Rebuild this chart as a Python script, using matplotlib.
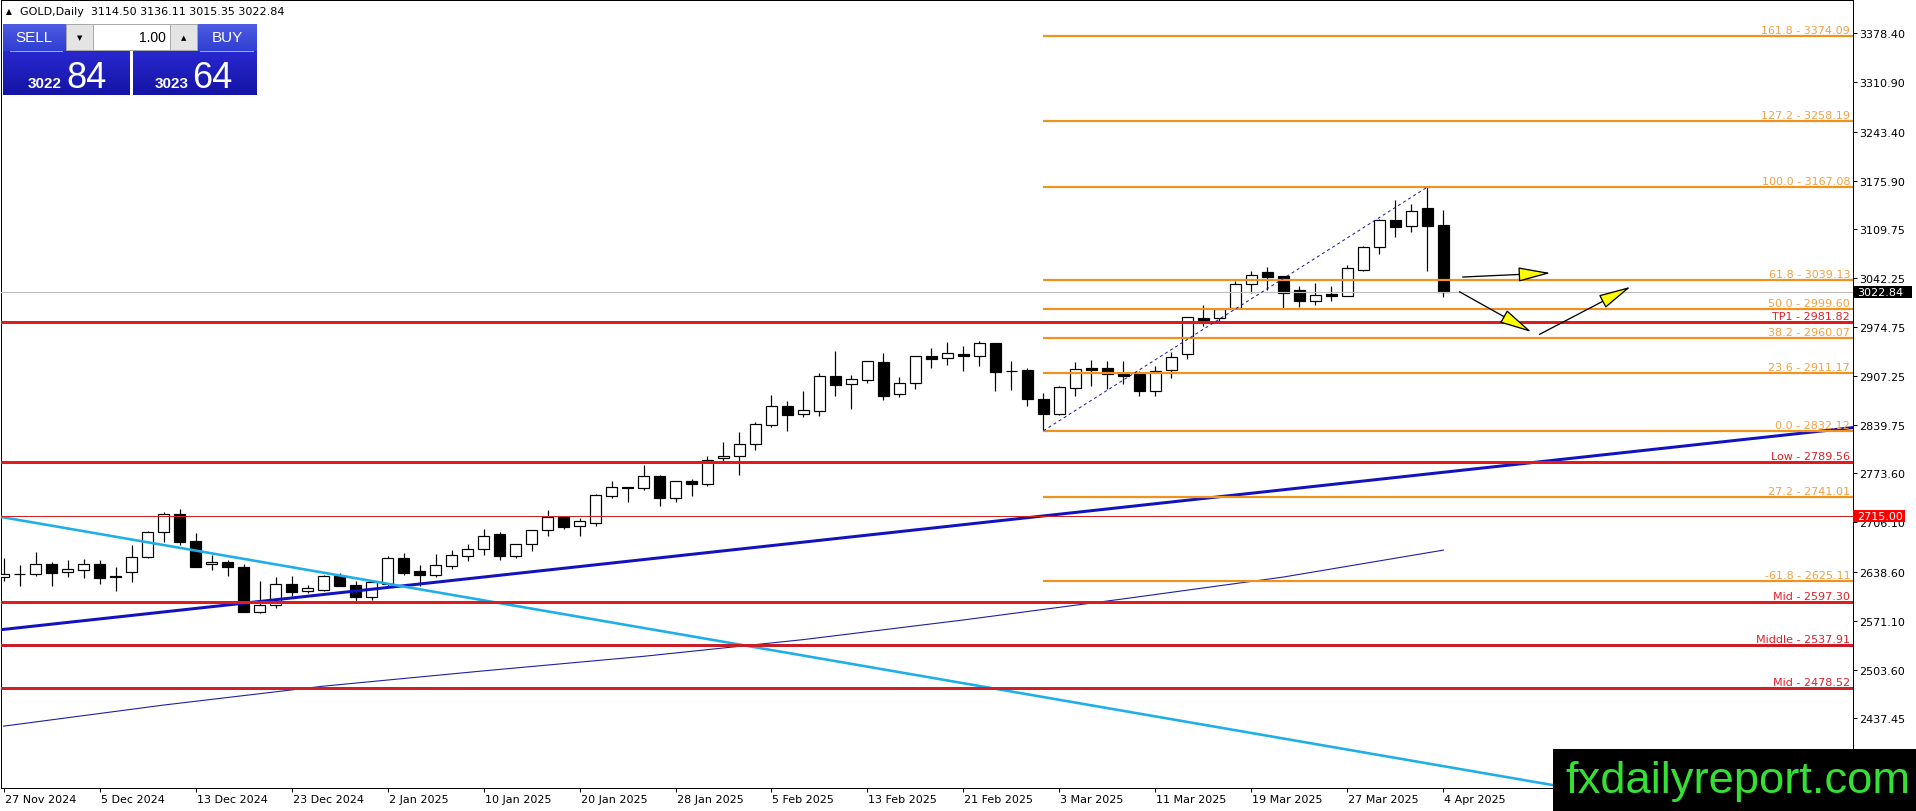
import numpy as np
import matplotlib
matplotlib.use('Agg')
import matplotlib.pyplot as plt
import matplotlib.transforms as mtransforms
from matplotlib.patches import Rectangle, FancyArrowPatch
from matplotlib.colors import to_rgb
from matplotlib import font_manager as fm

# ---------------- data ----------------
header_symbol = "GOLD,Daily"
header_ohlc = "3114.50 3136.11 3015.35 3022.84"
sell_big, sell_small = "84", "3022"
buy_big, buy_small = "64", "3023"
lot_text = "1.00"

date_bars = [0, 6, 12, 18, 24, 30, 36, 42, 48, 54, 60, 66, 72, 78, 84, 90]
date_labels = ['27 Nov 2024', '5 Dec 2024', '13 Dec 2024', '23 Dec 2024', '2 Jan 2025',
               '10 Jan 2025', '20 Jan 2025', '28 Jan 2025', '5 Feb 2025', '13 Feb 2025',
               '21 Feb 2025', '3 Mar 2025', '11 Mar 2025', '19 Mar 2025', '27 Mar 2025',
               '4 Apr 2025']

opens = [2631, 2635, 2635.7, 2649, 2637.5, 2641, 2649, 2632, 2637.5, 2659,
         2692.5, 2717.7, 2680, 2648.5, 2651.7, 2644.4, 2583.4, 2592.6, 2621, 2611.8,
         2613.7, 2632, 2620, 2604, 2621.4, 2657.1, 2638.8, 2634.2, 2646.6, 2659.4,
         2669.5, 2689.7, 2660.3, 2675.9, 2695.2, 2714, 2700.7, 2704.8, 2742.8, 2754.3,
         2752.9, 2769.4, 2739.1, 2763, 2758.4, 2794.1, 2797.8, 2813.4, 2840.4, 2865.6,
         2854.6, 2858.7, 2906.8, 2895.8, 2902.3, 2926.1, 2882.1, 2897.2, 2934.3, 2931.6,
         2937.1, 2934.3, 2952.7, 2914.6, 2915.5, 2875.7, 2855.5, 2891.3, 2917.8, 2917.8,
         2911, 2910, 2886.2, 2916, 2937.1, 2986.6, 2987.5, 3000.3, 3033.3, 3049.8,
         3044.3, 3025.1, 3010, 3020, 3017.7, 3053.5, 3085.1, 3122.2, 3113, 3137.8,
         3114.5]
highs = [2657, 2647, 2665.9, 2652, 2654.4, 2655.8, 2654.4, 2644.4, 2675, 2694,
         2720, 2724.6, 2691.1, 2661.3, 2654.4, 2649, 2626, 2630.6, 2632, 2620,
         2633.8, 2636.6, 2626, 2626, 2660.3, 2664, 2647.5, 2662.6, 2668.1, 2675.9,
         2697, 2692.4, 2676, 2695.5, 2723.1, 2715.3, 2711.7, 2745.1, 2763, 2755.2,
         2785, 2771.2, 2763.4, 2765.7, 2796.9, 2816.1, 2830, 2843.6, 2881.2, 2873.4,
         2886.2, 2911, 2941.7, 2908.7, 2928.4, 2938.9, 2905.5, 2935.2, 2945.3, 2953.6,
         2948.1, 2954.9, 2952.9, 2928.4, 2918.3, 2883.9, 2894, 2927, 2929.3, 2928.4,
         2928.4, 2914.6, 2920.6, 2940.8, 2988.9, 3004.9, 3000, 3037.9, 3051.6, 3057.1,
         3045, 3031.5, 3035.1, 3031.5, 3059.9, 3085.5, 3123.1, 3149.7, 3143.7, 3167.08,
         3136.11]
lows = [2626, 2619, 2632, 2619, 2631.5, 2629.7, 2621.5, 2611.4, 2624.7, 2656.7,
        2678.7, 2675, 2644.4, 2641.2, 2632, 2582.5, 2581.1, 2588, 2605.4, 2608.6,
        2612.3, 2618.3, 2595, 2599.5, 2619.1, 2634.2, 2619.1, 2630.6, 2642, 2653.5,
        2661.7, 2654.8, 2657.6, 2667.2, 2687.8, 2697, 2687.8, 2700.7, 2739.6, 2733.7,
        2751, 2729.1, 2733.6, 2742.8, 2756.6, 2790.9, 2771.2, 2806, 2837.6, 2832.2,
        2850.5, 2852.8, 2880.3, 2861.9, 2897.7, 2874.8, 2878, 2889.4, 2917.8, 2922.9,
        2914.6, 2920.6, 2887.1, 2888.5, 2866.5, 2832.12, 2853.7, 2880.3, 2893.1, 2889.4,
        2896.3, 2879.4, 2879.4, 2904.6, 2930.7, 2976.5, 2982, 2999.4, 3021.4, 3026,
        3001.2, 3001.7, 3005.4, 3010.9, 3016.8, 3052.1, 3075, 3097.9, 3104.8, 3052.1,
        3015.35]
closes = [2635, 2635.5, 2648.5, 2637, 2641.6, 2648.5, 2629.7, 2631, 2658.1, 2692.5,
          2717.7, 2678.7, 2645.3, 2651.7, 2644.4, 2583.4, 2592.6, 2621, 2610.9, 2615.5,
          2632, 2619.2, 2604, 2623.8, 2657.1, 2636.5, 2634.2, 2647.5, 2660.8, 2669.5,
          2687.8, 2660.3, 2675.9, 2695.2, 2713, 2700.2, 2707.5, 2743.7, 2754.3, 2753.5,
          2769.4, 2739.1, 2762.5, 2758.4, 2792.3, 2796.9, 2813.6, 2840.9, 2865.6, 2854.1,
          2860.1, 2906.8, 2895.4, 2902.7, 2927.5, 2880.3, 2897.2, 2934.3, 2931.1, 2938.5,
          2934.3, 2952.2, 2913.3, 2914.2, 2876.1, 2855.5, 2891.7, 2916.5, 2915.5, 2909.6,
          2907.8, 2887.1, 2914.6, 2933, 2988, 2982, 2999.4, 3033.3, 3046.6, 3043.8,
          3021.4, 3010.9, 3019.1, 3017.7, 3055.3, 3084.2, 3122.2, 3112.6, 3134.6, 3114,
          3022.84]

price_ticks = [3378.40, 3310.90, 3243.40, 3175.90, 3109.75, 3042.25, 2974.75, 2907.25,
               2839.75, 2773.60, 2706.10, 2638.60, 2571.10, 2503.60, 2437.45]

fib_levels = [161.8, 127.2, 100.0, 61.8, 50.0, 38.2, 23.6, 0.0, 27.2, -61.8]
fib_prices = [3374.09, 3258.19, 3167.08, 3039.13, 2999.60, 2960.07, 2911.17, 2832.12, 2741.01, 2625.11]
fib_start_bar = 65
fib_anchor_bars = [65, 89]
fib_anchor_prices = [2832.12, 3167.08]

red_names = ['TP1', 'Low', '', 'Mid', 'Middle', 'Mid']
red_prices = [2981.82, 2789.56, 2715.00, 2597.30, 2537.91, 2478.52]

current_price = 3022.84
boxed_level = 2715.00

navy_bars = [0, 100]
navy_prices = [2559, 2799]
cyan_bars = [0, 100]
cyan_prices = [2713, 2333]

ma_bars = [0, 10, 20, 30, 40, 50, 60, 70, 80, 90]
ma_values = [2426, 2455, 2481, 2502, 2522, 2545, 2572, 2601, 2631, 2668]

arrow_starts = [(91.2, 3043.4), (91.0, 3023.2), (96.0, 2964.5)]
arrow_ends = [(96.7, 3048.9), (95.5, 2967.8), (101.7, 3030.0)]

watermark = "fxdailyreport.com"

# ---------------- styles ----------------
W, H, DPI = 1916, 812, 100
PX = 72.0 / DPI  # points per pixel
FIB_COL = '#F0921E'
FIB_TXT = '#F2A144'
RED_COL = '#E31A1C'
RED_TXT = '#E0202A'
red_widths = [3, 3, 1, 3, 3, 3]
red_colors = [RED_COL, RED_COL, '#D02020', RED_COL, '#C81E28', '#D61C24']

plt.rcParams['font.family'] = ['DejaVu Sans']

fig = plt.figure(figsize=(W / DPI, H / DPI), dpi=DPI)
fig.patch.set_facecolor('white')

ax_l, ax_r, ax_t, ax_b = 1, 1853, 1, 789
ax = fig.add_axes([ax_l / W, (H - ax_b) / H, (ax_r - ax_l) / W, (ax_b - ax_t) / H])
ax.set_facecolor('white')
ax.set_xlim(-0.16, 115.6)
ax.set_ylim(2341.0, 3424.2)

for s in ax.spines.values():
    s.set_color('black')
    s.set_linewidth(1.0 * PX)

# candles
x = np.arange(len(opens))
O = np.array(opens); Hh = np.array(highs); L = np.array(lows); C = np.array(closes)
up = C >= O
ax.vlines(x, L, Hh, color='black', linewidth=1.2 * PX, zorder=2)
face = ['white' if u else 'black' for u in up]
body = np.where(np.abs(C - O) < 0.01, 0.01, C - O)
ax.bar(x, body, bottom=O, width=0.64, color=face, edgecolor='black',
       linewidth=1.2 * PX, zorder=3)

# moving average
ax.plot(ma_bars, ma_values, color='#1E1EA6', linewidth=1.1 * PX, zorder=4)

# trend lines (extend as rays)
def ray(bars, prices, **kw):
    b0, b1 = bars
    p0, p1 = prices
    slope = (p1 - p0) / (b1 - b0)
    xs = np.array([-5, 130])
    ax.plot(xs, p0 + slope * (xs - b0), **kw)

ray(navy_bars, navy_prices, color='#1212BE', linewidth=3 * PX, zorder=5, solid_capstyle='butt')
ray(cyan_bars, cyan_prices, color='#1EAEE8', linewidth=2.6 * PX, zorder=5, solid_capstyle='butt')

# current price line
ax.axhline(current_price, color='#C0C0C0', linewidth=1.2 * PX, zorder=4)

# red horizontal levels
blend = mtransforms.blended_transform_factory(ax.transAxes, ax.transData)
lab_off = mtransforms.ScaledTranslation(0, 1.0 / DPI, fig.dpi_scale_trans)
for name, pr, lw, col in zip(red_names, red_prices, red_widths, red_colors):
    ax.axhline(pr, color=col, linewidth=lw * PX, zorder=5)
    if name:
        ax.text(0.9985, pr, f"{name} - {pr:.2f}", transform=blend + lab_off,
                ha='right', va='bottom', fontsize=8, color=RED_TXT, zorder=7)

# fibonacci
for lvl, pr in zip(fib_levels, fib_prices):
    ax.plot([fib_start_bar, 130], [pr, pr], color=FIB_COL, linewidth=2.2 * PX, zorder=5,
            solid_capstyle='butt')
    ax.text(0.9985, pr, f"{lvl:.1f} - {pr:.2f}", transform=blend + lab_off,
            ha='right', va='bottom', fontsize=8, color=FIB_TXT, zorder=7)
ax.plot(fib_anchor_bars, fib_anchor_prices, color='#1A1AA0', linewidth=1.0 * PX,
        linestyle=(0, (3, 3)), zorder=6)

# arrows
for (s, e) in zip(arrow_starts, arrow_ends):
    arr = FancyArrowPatch(s, e, arrowstyle='-|>,head_length=1.7,head_width=0.38',
                          mutation_scale=12, facecolor='#FFFF00', edgecolor='black',
                          linewidth=1.3 * PX, zorder=8, shrinkA=0, shrinkB=0)
    ax.add_patch(arr)

# axes ticks
ax.yaxis.tick_right()
ax.set_yticks(price_ticks)
ax.set_yticklabels([f"{p:.2f}" for p in price_ticks])
ax.tick_params(axis='y', direction='out', length=4 * PX, width=1 * PX, pad=2.5 * PX,
               labelsize=8, colors='black')
ax.set_xticks(date_bars)
ax.set_xticklabels(date_labels)
ax.tick_params(axis='x', direction='out', length=4 * PX, width=1 * PX, pad=2 * PX,
               labelsize=8, colors='black')
xoff = mtransforms.ScaledTranslation(1.0 / DPI, 0, fig.dpi_scale_trans)
for t in ax.get_xticklabels():
    t.set_horizontalalignment('left')
    t.set_transform(t.get_transform() + xoff)

# price boxes on axis
ybox = mtransforms.blended_transform_factory(ax.transAxes, ax.transData)
axw = ax_r - ax_l
def axis_box(price, fc, text, width_px):
    h_pr = 12 / 0.7275
    ax.add_patch(Rectangle((1.0, price - h_pr / 2), width_px / axw, h_pr, transform=ybox,
                           facecolor=fc, edgecolor='none', clip_on=False, zorder=20))
    ax.text(1.0 + 4 / axw, price, text, transform=ybox, ha='left', va='center',
            fontsize=8, color='white', clip_on=False, zorder=21)

axis_box(current_price, 'black', f"{current_price:.2f}", 59)
axis_box(boxed_level, '#FF0000', f"{boxed_level:.2f}", 52)

# ---------------- overlay (pixel coords) ----------------
ov = fig.add_axes([0, 0, 1, 1], zorder=10)
ov.patch.set_alpha(0)
ov.axis('off')

def grad_rect(x0, y0, x1, y1, c_top, c_bot):
    n = 64
    t = np.linspace(0, 1, n)[:, None]
    a = np.array(to_rgb(c_top)); b = np.array(to_rgb(c_bot))
    img = (a * (1 - t) + b * t)[:, None, :]
    ov.imshow(img, extent=[x0, x1, y1, y0], aspect='auto', interpolation='bilinear', zorder=1)

# header
ov.text(9, 12, '\u25B2', fontsize=5.5, ha='center', va='center', color='black')
ov.text(20, 12, header_symbol + "  " + header_ohlc, fontsize=8, ha='left', va='center',
        color='black')

# one-click trading panel
grad_rect(3, 25, 130, 52, '#4D5CE2', '#2F3FD2')
grad_rect(3, 52, 130, 96, '#2828D0', '#1414A4')
grad_rect(133, 25, 257, 52, '#4D5CE2', '#2F3FD2')
grad_rect(133, 52, 257, 96, '#2828D0', '#1414A4')
ov.plot([10, 62], [52, 52], color='#9AA6F2', linewidth=1 * PX, zorder=2)
ov.plot([200, 253], [52, 52], color='#9AA6F2', linewidth=1 * PX, zorder=2)
ov.add_patch(Rectangle((66, 25), 131, 26, facecolor='white', edgecolor='#A8A8A8',
                       linewidth=1 * PX, zorder=3))
ov.add_patch(Rectangle((66, 25), 27, 26, facecolor='#E4E4E4', edgecolor='#A8A8A8',
                       linewidth=1 * PX, zorder=4))
ov.add_patch(Rectangle((170, 25), 27, 26, facecolor='#E4E4E4', edgecolor='#A8A8A8',
                       linewidth=1 * PX, zorder=4))
ov.text(79.5, 38, '\u25BC', fontsize=5, ha='center', va='center', color='black', zorder=5)
ov.text(183.5, 38, '\u25B2', fontsize=5, ha='center', va='center', color='black', zorder=5)
ov.text(166, 38, lot_text, fontsize=10, ha='right', va='center', color='black', zorder=5,
        family='Liberation Sans')
ov.text(34, 38, 'SELL', fontsize=11, ha='center', va='center', color='white', zorder=5,
        family='Liberation Sans')
ov.text(227, 38, 'BUY', fontsize=11, ha='center', va='center', color='white', zorder=5,
        family='Liberation Sans')
ov.text(28, 88, sell_small, fontsize=11, fontweight='bold', ha='left', va='baseline',
        color='white', zorder=5, family='Liberation Sans')
ov.text(66, 88, sell_big, fontsize=26, ha='left', va='baseline', color='white', zorder=5,
        family='Liberation Sans')
ov.text(155, 88, buy_small, fontsize=11, fontweight='bold', ha='left', va='baseline',
        color='white', zorder=5, family='Liberation Sans')
ov.text(192, 88, buy_big, fontsize=26, ha='left', va='baseline', color='white', zorder=5,
        family='Liberation Sans')

# watermark
ov.add_patch(Rectangle((1553, 750), W - 1553, H - 750, facecolor='black', edgecolor='none',
                       zorder=6))
names = {f.name for f in fm.fontManager.ttflist}
wm_family = 'Liberation Sans Narrow' if 'Liberation Sans Narrow' in names else 'Liberation Sans'
wm = ov.text(1738, 782, watermark, fontsize=30, ha='center', va='center', color='#35E035',
             zorder=7, family=wm_family)

ov.set_xlim(0, W)
ov.set_ylim(H, 0)

fig.canvas.draw()
r = fig.canvas.get_renderer()
bb = wm.get_window_extent(r)
wm.set_fontsize(30 * 345 / bb.width)

fig.savefig('out.png', dpi=DPI, facecolor='white')
